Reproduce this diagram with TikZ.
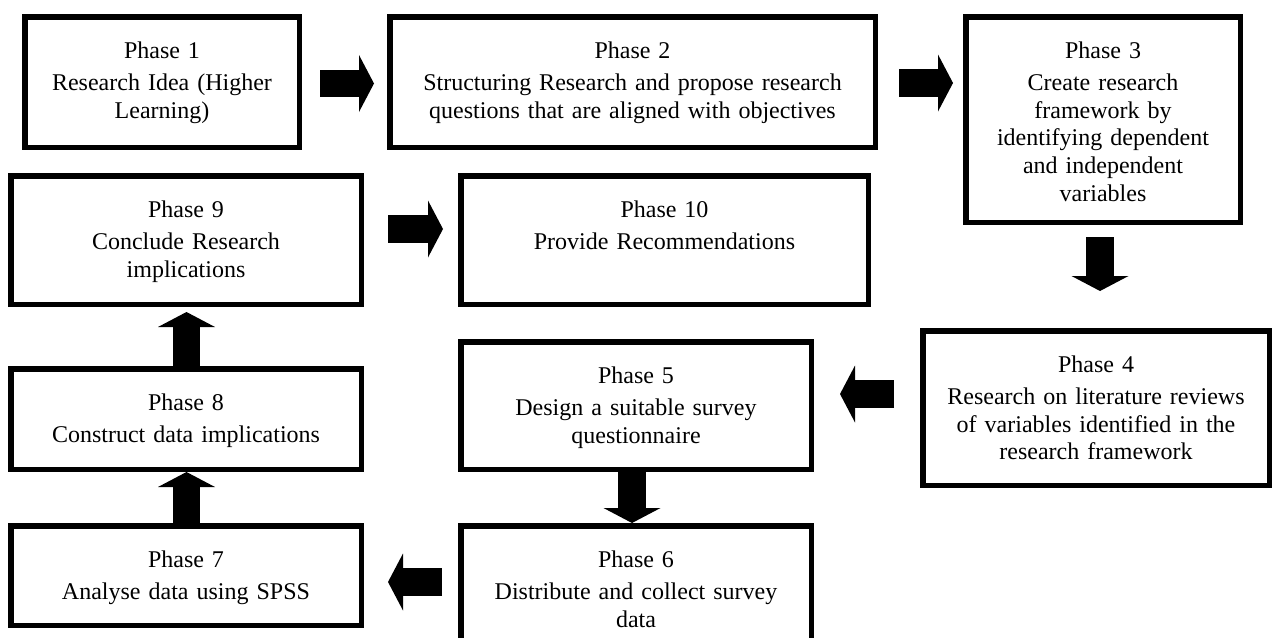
\documentclass[tikz,border=0pt]{standalone}
\usepackage{fontspec}
\setmainfont{Liberation Serif}
\usetikzlibrary{arrows.meta,calc}

\begin{document}
\begin{tikzpicture}[x=1pt, y=-1pt,
  every node/.style={font=\fontsize{24}{27.6}\selectfont},
  phase/.style 2 args={draw, line width=5.5pt, outer sep=2.75pt, inner sep=0pt,
    anchor=north west, align=center, text width=#1, minimum width=#1,
    text height=41.25pt, text depth=#2},
  flow/.style={line width=27.5pt, -{Triangle[width=57pt,length=15pt,line width=0pt]}}]

\useasboundingbox (0,0) rectangle (1273,637);

% Top row
\node[phase={274.5pt}{89.25pt}] (p1) at (22,14) {Phase 1\\[5pt]Research Idea (Higher\\Learning)};
\node[phase={485.5pt}{89.25pt}] (p2) at (387,14) {Phase 2\\[5pt]Structuring Research and propose research\\questions that are aligned with objectives};
\node[phase={274.5pt}{164.25pt}] (p3) at (963,14) {Phase 3\\[5pt]Create research\\framework by\\identifying dependent\\and independent\\variables};

% Second row
\node[phase={350.5pt}{87.25pt}] (p9) at (8,173) {Phase 9\\[5pt]Conclude Research\\implications};
\node[phase={407.5pt}{87.25pt}] (p10) at (458,173) {Phase 10\\[5pt]Provide Recommendations};

% Middle
\node[phase={346.5pt}{113.25pt}] (p4) at (920,328) {Phase 4\\[5pt]Research on literature reviews\\of variables identified in the\\research framework};
\node[phase={350.5pt}{86.25pt}] (p5) at (458,339) {Phase 5\\[5pt]Design a suitable survey\\questionnaire};
\node[phase={350.5pt}{59.25pt}] (p8) at (8,366) {Phase 8\\[5pt]Construct data implications};

% Bottom row
\node[phase={350.5pt}{58.25pt}] (p7) at (8,523) {Phase 7\\[5pt]Analyse data using SPSS};
\node[phase={350.5pt}{85.25pt}] (p6) at (458,523) {Phase 6\\[5pt]Distribute and collect survey\\data};

% Arrows
\coordinate (s12) at ([xshift=18pt,yshift=-1.5pt]p1.east);
\draw[flow] (s12) -- ($(s12 -| p2.west)+(-13pt,0)$);
\coordinate (s23) at ([xshift=21pt,yshift=-1pt]p2.east);
\draw[flow] (s23) -- ($(s23 -| p3.west)+(-10pt,0)$);
\coordinate (s34) at ([xshift=-3pt,yshift=-12pt]p3.south);
\draw[flow] (s34) -- ($(s34 |- p4.north)+(0,37pt)$);
\coordinate (s45) at ([xshift=-26pt,yshift=14pt]p4.west);
\draw[flow] (s45) -- ($(s45 -| p5.east)+(26pt,0)$);
\coordinate (s56) at ([xshift=-4pt]p5.south);
\draw[flow] (s56) -- (s56 |- p6.north);
\coordinate (e67) at ([xshift=24pt,yshift=-6.5pt]p7.east);
\draw[flow] ($(e67 -| p6.west)+(-16pt,0)$) -- (e67);
\coordinate (s78) at ([xshift=0.5pt]p7.north);
\draw[flow] (s78) -- (s78 |- p8.south);
\coordinate (s89) at ([xshift=0.5pt]p8.north);
\draw[flow] (s89) -- ($(s89 |- p9.south)+(0,-5pt)$);
\coordinate (s910) at ([xshift=24pt,yshift=11pt]p9.east);
\draw[flow] (s910) -- ($(s910 -| p10.west)+(-15pt,0)$);

\end{tikzpicture}
\end{document}
